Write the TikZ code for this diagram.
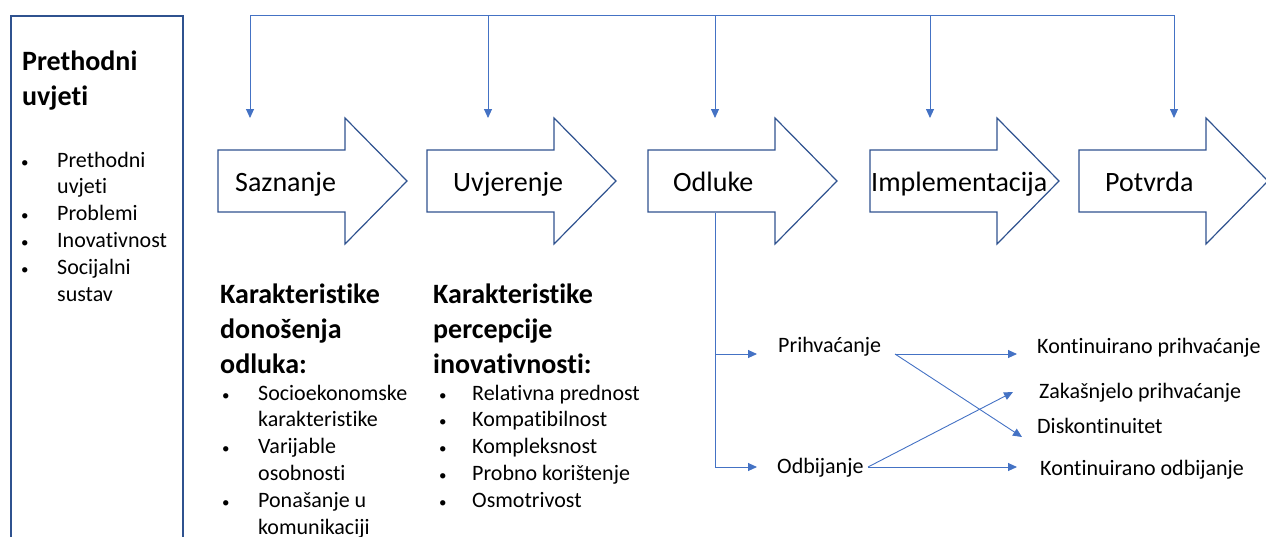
\documentclass[tikz,border=0pt]{standalone}
\usepackage{fontspec}
\setmainfont{Carlito}[Ligatures=NoCommon]
\usetikzlibrary{arrows.meta}
\definecolor{StageBlue}{HTML}{2F528F}
\definecolor{LinkBlue}{HTML}{4472C4}
\newcommand{\dotmark}{{\fontsize{15}{15}\selectfont•}}
\tikzstyle{PreBox}=[rectangle, draw=StageBlue, line width=1.5pt, inner sep=0pt]
\tikzstyle{StageArrow}=[draw=StageBlue, line width=1.2pt, line join=miter]
\tikzstyle{StageText}=[inner sep=0pt, anchor=base west, font=\fontsize{28}{35}\selectfont]
\tikzstyle{HeadText}=[inner sep=0pt, anchor=base west, font=\fontsize{28}{35}\selectfont\bfseries]
\tikzstyle{ListText}=[inner sep=0pt, anchor=base west, font=\fontsize{22}{26.8}\selectfont]
\tikzstyle{OutText}=[inner sep=0pt, anchor=base west, font=\fontsize{22}{26}\selectfont]
\tikzstyle{Link}=[draw=LinkBlue, line width=0.9pt]
\tikzstyle{LinkArrow}=[Link, -{Triangle[length=9pt,width=8pt]}]

\begin{document}
\begin{tikzpicture}[x=1pt,y=-1pt]
\useasboundingbox (0,0) rectangle (1266,536);

\node[PreBox, minimum width=172pt, minimum height=560pt, anchor=north west](prebox) at (10,15) {};
\node[HeadText](prehead) at (22,70) {\begin{tabular}[t]{@{}l@{}}Prethodni\\uvjeti\end{tabular}};
\node[ListText](prelist) at (21,167) {\begin{tabular}[t]{@{}p{36pt}@{}l@{}}
\dotmark&Prethodni\\ &uvjeti\\ \dotmark&Problemi\\ \dotmark&Inovativnost\\ \dotmark&Socijalni\\ &sustav\end{tabular}};

\foreach \x in {218,427,648,870,1079}
  \draw[StageArrow] (\x,150) -- ++(127,0) -- ++(0,-32) -- ++(62,63) -- ++(-62,63) -- ++(0,-32) -- ++(-127,0) -- cycle;

\node[StageText](saznanje) at (235,191) {Saznanje};
\node[StageText](uvjerenje) at (453,191) {Uvjerenje};
\node[StageText](odluke) at (673,191) {Odluke};
\node[StageText](implementacija) at (871,191) {Implementacija};
\node[StageText](potvrda) at (1105,191) {Potvrda};

\coordinate (top1) at (250,15);
\coordinate (top2) at (488,15);
\coordinate (top3) at (715,15);
\coordinate (top4) at (930,15);
\coordinate (top5) at (1174,15);
\coordinate (in1) at (250,118);
\coordinate (in2) at (488,118);
\coordinate (in3) at (715,118);
\coordinate (in4) at (930,118);
\coordinate (in5) at (1174,118);
\draw[Link](top1) -- (top5);
\draw[LinkArrow](top1) -- (in1);
\draw[LinkArrow](top2) -- (in2);
\draw[LinkArrow](top3) -- (in3);
\draw[LinkArrow](top4) -- (in4);
\draw[LinkArrow](top5) -- (in5);

\node[HeadText](donhead) at (220,303) {\begin{tabular}[t]{@{}l@{}}Karakteristike\\donošenja\\odluka:\end{tabular}};
\node[ListText](donlist) at (222,400) {\begin{tabular}[t]{@{}p{36pt}@{}l@{}}
\dotmark&Socioekonomske\\ &karakteristike\\ \dotmark&Varijable\\ &osobnosti\\ \dotmark&Ponašanje u\\ &komunikaciji\end{tabular}};
\node[HeadText](perhead) at (433,303) {\begin{tabular}[t]{@{}l@{}}Karakteristike\\percepcije\\inovativnosti:\end{tabular}};
\node[ListText](perlist) at (439,400) {\begin{tabular}[t]{@{}p{33pt}@{}l@{}}
\dotmark&Relativna prednost\\ \dotmark&Kompatibilnost\\ \dotmark&Kompleksnost\\ \dotmark&Probno korištenje\\ \dotmark&Osmotrivost\end{tabular}};

\node[OutText](prihv) at (778,352) {Prihvaćanje};
\node[OutText](odbij) at (777,473) {Odbijanje};
\node[OutText](kontprihv) at (1037,353) {Kontinuirano prihvaćanje};
\node[OutText](zakprihv) at (1039,398) {Zakašnjelo prihvaćanje};
\node[OutText](diskont) at (1037,433) {Diskontinuitet};
\node[OutText](kontodbij) at (1040,475) {Kontinuirano odbijanje};

\coordinate (odlout) at (715,213);
\coordinate (brP) at (715,354);
\coordinate (brO) at (715,467);
\coordinate (toP) at (757,354);
\coordinate (toO) at (757,467);
\coordinate (pOut) at (895,354);
\coordinate (oOut) at (868,467);
\coordinate (toKP) at (1017,354);
\coordinate (toDK) at (1022,437);
\coordinate (toZP) at (1013,392);
\coordinate (toKO) at (1017,467);
\draw[Link](odlout) -- (brO);
\draw[LinkArrow](brP) -- (toP);
\draw[LinkArrow](brO) -- (toO);
\draw[LinkArrow](pOut) -- (toKP);
\draw[LinkArrow](pOut) -- (toDK);
\draw[LinkArrow](oOut) -- (toZP);
\draw[LinkArrow](oOut) -- (toKO);
\end{tikzpicture}
\end{document}
